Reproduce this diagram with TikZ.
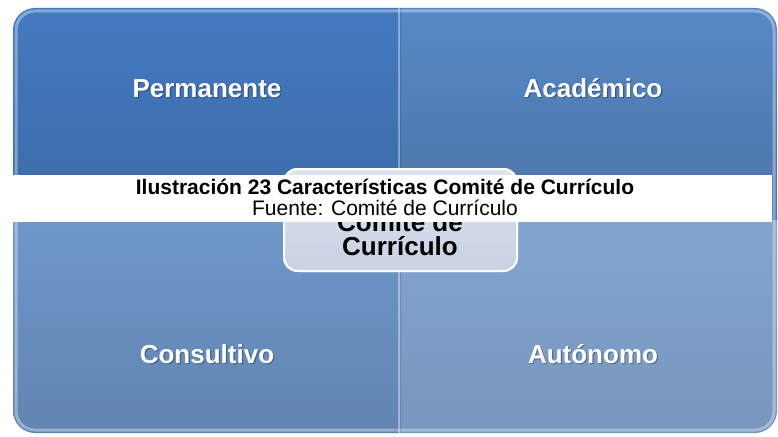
\documentclass[tikz,border=0pt]{standalone}
\usepackage{fontspec}
\setmainfont{Liberation Sans}
\definecolor{tlT}{RGB}{68,122,192}
\definecolor{tlB}{RGB}{60,106,168}
\definecolor{trT}{RGB}{86,136,198}
\definecolor{trB}{RGB}{76,116,168}
\definecolor{blT}{RGB}{110,151,202}
\definecolor{blB}{RGB}{98,132,178}
\definecolor{brT}{RGB}{130,165,207}
\definecolor{brB}{RGB}{120,150,190}
\definecolor{ctrT}{RGB}{222,228,240}
\definecolor{ctrB}{RGB}{200,210,228}
\begin{document}
\begin{tikzpicture}[x=1pt,y=-1pt,
  lbl/.style={font=\fontsize{26}{30}\selectfont\bfseries, text=white, anchor=base, inner sep=0pt},
  lblsh/.style={font=\fontsize{26}{30}\selectfont\bfseries, text=black, text opacity=0.3, anchor=base, inner sep=0pt},
  hl/.style={line width=3pt, draw=white, draw opacity=0.35},
  captxt/.style={font=\fontsize{21}{24}\selectfont, anchor=base, inner sep=0pt}]
\useasboundingbox (0,0) rectangle (778,436);
\fill[white] (0,0) rectangle (778,436);
% quadrants, clipped to the outer rounded frame
\begin{scope}
\clip[rounded corners=22pt] (13,8) rectangle (777,433);
\shade[top color=tlT, bottom color=tlB] (13,8) rectangle (399,220);
\shade[top color=trT, bottom color=trB] (399,8) rectangle (777,220);
\shade[top color=blT, bottom color=blB] (13,220) rectangle (399,433);
\shade[top color=brT, bottom color=brB] (399,220) rectangle (777,433);
% bevel highlights
\draw[hl, rounded corners=19pt] (16,11) rectangle (774,430);
\draw[line width=2pt, draw=white, draw opacity=0.35] (398.5,8) -- (398.5,433);
\draw[line width=1pt, draw=black, draw opacity=0.12] (400.5,8) -- (400.5,433);
\end{scope}
% labels
\node[lblsh] (s1) at (208.2,98.5) {Permanente};
\node[lbl] (l1) at (207,97) {Permanente};
\node[lblsh] (s2) at (594.2,98.5) {Académico};
\node[lbl] (l2) at (593,97) {Académico};
\node[lblsh] (s3) at (208.2,364.5) {Consultivo};
\node[lbl] (l3) at (207,363) {Consultivo};
\node[lblsh] (s4) at (594.2,364.5) {Autónomo};
\node[lbl] (l4) at (593,363) {Autónomo};
% center box
\shade[top color=ctrT, bottom color=ctrB, rounded corners=14pt] (283,168) rectangle (518,272);
\draw[white, line width=2pt, rounded corners=14pt] (284,169) rectangle (517,271);
\node[font=\fontsize{26}{24}\selectfont\bfseries, anchor=base, inner sep=0pt] (c1) at (400,231) {Comité de};
\node[font=\fontsize{26}{24}\selectfont\bfseries, anchor=base, inner sep=0pt] (c2) at (400,255) {Currículo};
% caption band
\fill[white] (0,175) rectangle (772,222);
\node[captxt, font=\fontsize{21}{24}\selectfont\bfseries] (t1) at (385,194) {Ilustración 23 Características Comité de Currículo};
\node[captxt] (t2) at (385,215) {Fuente: Comité de Currículo};
\end{tikzpicture}
\end{document}
